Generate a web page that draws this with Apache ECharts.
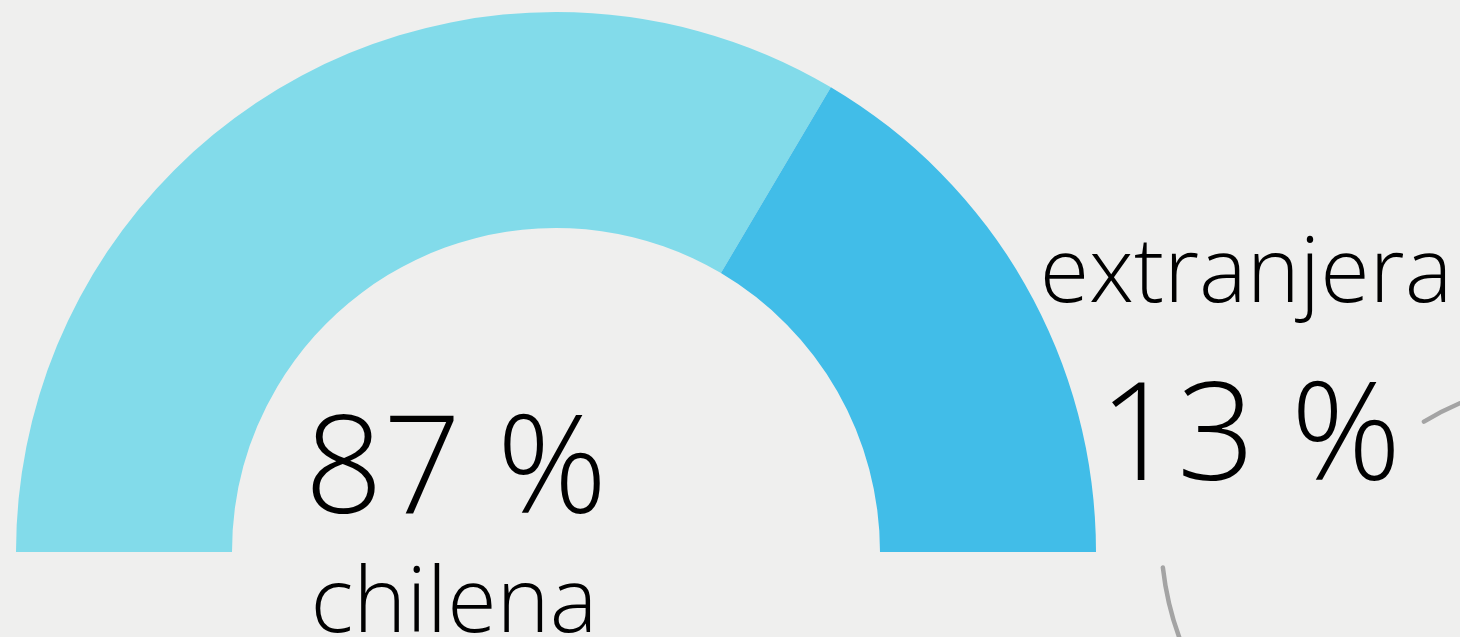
<!DOCTYPE html>
<html>
<head>
<meta charset="utf-8">
<script src="https://cdn.jsdelivr.net/npm/echarts@6/dist/echarts.min.js"></script>
<style>
  html, body { margin: 0; padding: 0; background: #efefee; }
  #chart { width: 1460px; height: 637px; }
</style>
</head>
<body>
<div id="chart"></div>
<script>
const categories = ["chilena", "extranjera"];
const percentLabels = [87, 13];
// arc spans as drawn in the picture (not proportional to the labels)
const arcShares = [67, 33];
const colors = ["#82dbea", "#41bde8"];

const font = size => `300 ${size}px "Open Sans"`;

const chart = echarts.init(document.getElementById("chart"), null, { renderer: "canvas" });

const labelText = (text, x, y, size) => ({
  type: "text",
  silent: true,
  style: { text, x, y, font: font(size), fill: "#000", align: "center", verticalAlign: "middle" }
});

chart.setOption({
  backgroundColor: "#efefee",
  animation: false,
  series: [{
    type: "pie",
    silent: true,
    center: [556, 552],
    radius: [324, 540],
    startAngle: 180,
    endAngle: 360,
    label: { show: false },
    labelLine: { show: false },
    itemStyle: { borderWidth: 0 },
    data: categories.map((name, i) => ({ name, value: arcShares[i], itemStyle: { color: colors[i] } }))
  }],
  graphic: [
    labelText(`${percentLabels[0]} %`, 456, 474, 137),
    labelText(categories[0], 454, 606, 90),
    labelText(categories[1], 1246, 276, 90),
    labelText(`${percentLabels[1]} %`, 1250, 441, 137),
    {
      type: "arc", silent: true,
      shape: { cx: 1461, cy: 534, r: 300, startAngle: 2.55, endAngle: 3.03, clockwise: true },
      style: { stroke: "#a4a4a4", lineWidth: 4.5, fill: null, lineCap: "round" }
    },
    {
      type: "arc", silent: true,
      shape: { cx: 1578, cy: 679, r: 300, startAngle: -2.11, endAngle: -1.8, clockwise: true },
      style: { stroke: "#a4a4a4", lineWidth: 4.5, fill: null, lineCap: "round" }
    }
  ]
});
</script>
</body>
</html>
